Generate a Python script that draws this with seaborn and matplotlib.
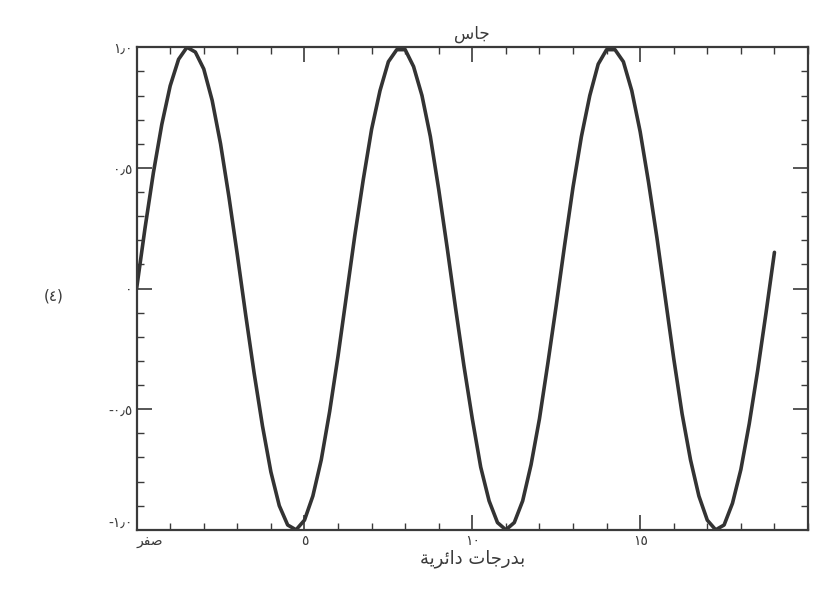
import pandas as pd
import matplotlib.pyplot as plt
import seaborn as sns
from matplotlib.ticker import MultipleLocator, FixedLocator

# values (radians vs. sine)
x_vals = [i * 0.25 for i in range(77)]
y_vals = [
    0.00, 0.25, 0.48, 0.68, 0.84, 0.95, 1.00, 0.98, 0.91, 0.78, 0.60, 0.38, 0.14,
    -0.11, -0.35, -0.57, -0.76, -0.90, -0.98, -1.00, -0.96, -0.86, -0.71, -0.51, -0.28,
    -0.03, 0.22, 0.45, 0.66, 0.82, 0.94, 0.99, 0.99, 0.92, 0.80, 0.63, 0.41, 0.17,
    -0.08, -0.32, -0.54, -0.74, -0.88, -0.97, -1.00, -0.97, -0.88, -0.73, -0.54, -0.31,
    -0.07, 0.18, 0.42, 0.63, 0.80, 0.93, 0.99, 0.99, 0.94, 0.82, 0.65, 0.44, 0.21,
    -0.04, -0.29, -0.52, -0.71, -0.86, -0.96, -1.00, -0.98, -0.89, -0.75, -0.56, -0.34,
    -0.10, 0.15,
]

# labels (Arabic, written in presentation forms, visual order)
title_txt = "\uFEB1\uFE8E\uFE9F"                      # جاس
xlabel_txt = ("\uFE94\uFEF3\uFEAE\uFE8B\uFE8D\uFEA9 "   # دائرية
              "\uFE95\uFE8E\uFE9F\uFEAD\uFEAA\uFE91")   # بدرجات
zero_txt = "\uFEAE\uFED4\uFEBB"                       # صفر
x_ticks = [0, 5, 10, 15]
x_ticklabels = [zero_txt, "\u0665", "\u0661\u0660", "\u0661\u0665"]
y_ticks = [-1.0, -0.5, 0.0, 0.5, 1.0]
y_ticklabels = ["-\u0661\u066B\u0660", "-\u0660\u066B\u0665", "\u0660",
                "\u0660\u066B\u0665", "\u0661\u066B\u0660"]
fig_tag = "(\u0664)"

df = pd.DataFrame({"x": x_vals, "y": y_vals})

sns.set_style("ticks")
plt.rcParams['font.family'] = ['DejaVu Sans']

ink = "#3a3a3a"
fig = plt.figure(figsize=(8.33, 5.98), dpi=100)
ax = fig.add_axes([0.164, 0.114, 0.806, 0.807])

sns.lineplot(data=df, x="x", y="y", ax=ax, color="#333333", linewidth=2.6)
for ln in ax.lines:
    ln.set_solid_joinstyle("round")
    ln.set_solid_capstyle("round")

ax.set_xlim(0, 20)
ax.set_ylim(-1, 1)
ax.xaxis.set_major_locator(FixedLocator(x_ticks))
ax.set_xticklabels(x_ticklabels, fontsize=10, color=ink)
ax.xaxis.set_minor_locator(MultipleLocator(1))
ax.yaxis.set_major_locator(FixedLocator(y_ticks))
ax.set_yticklabels(y_ticklabels, fontsize=10, color=ink)
ax.yaxis.set_minor_locator(MultipleLocator(0.1))
ax.tick_params(which="both", direction="in", top=True, right=True, color=ink)
ax.tick_params(which="major", length=11, width=1.2, pad=3)
ax.tick_params(which="minor", length=5, width=1)
for sp in ax.spines.values():
    sp.set_color(ink)
    sp.set_linewidth(1.6)

# zero label sits to the right of the corner, bottom y label a bit higher
ax.get_xticklabels()[0].set_horizontalalignment("left")
ax.get_yticklabels()[0].set_verticalalignment("bottom")

ax.set_title(title_txt, fontsize=12, color=ink, pad=6)
ax.set_xlabel(xlabel_txt, fontsize=13, color=ink, labelpad=1)
ax.set_ylabel("")
fig.text(0.065, 0.505, fig_tag, fontsize=11, color=ink, ha="center", va="center")

plt.savefig("out.png", dpi=100)
